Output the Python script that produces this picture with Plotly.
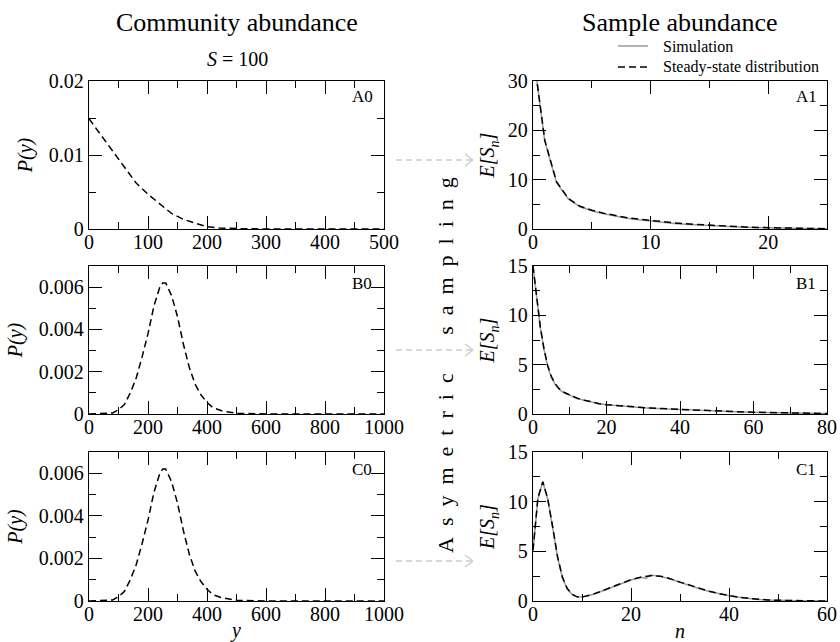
import plotly.graph_objects as go

FONT = "Liberation Serif, Times New Roman, serif"

# ---------------- data ----------------
# Community abundance, S = 100 (panel A0)
a0_y = [0, 20, 40, 60, 80, 100, 120, 140, 160, 180, 200, 220, 240, 260, 300, 350, 400, 450, 500]
a0_p = [0.0149, 0.0127, 0.0105, 0.0083, 0.0062, 0.0047, 0.0034, 0.0021, 0.0013, 0.0008,
        0.0003, 0.00015, 0.00007, 0.00003, 0.00001, 0, 0, 0, 0]

# Community abundance (panels B0 and C0)
b0_y = [0, 50, 80, 100, 120, 140, 160, 180, 200, 220, 240, 250, 260, 280, 300, 320, 340,
        360, 380, 400, 420, 450, 480, 500, 600, 800, 1000]
b0_p = [0, 0.00001, 0.00005, 0.0002, 0.00045, 0.001, 0.0017, 0.0027, 0.0038, 0.0051, 0.0060,
        0.0062, 0.0062, 0.0056, 0.0046, 0.0033, 0.0022, 0.0014, 0.0009, 0.00055, 0.0003,
        0.00015, 0.00006, 0.00003, 0, 0, 0]
c0_y = b0_y
c0_p = b0_p

# Sample abundance (panel A1)
a1_n = [0, 1, 2, 3, 4, 5, 6, 7, 8, 9, 10, 11, 12, 13, 14, 15, 16, 17, 18, 19, 20, 21, 22, 23, 24, 25]
a1_sim = [36, 17.8, 9.4, 6.1, 4.5, 3.7, 3.1, 2.6, 2.2, 1.85, 1.55, 1.3, 1.1, 0.95, 0.8, 0.68,
          0.56, 0.45, 0.36, 0.28, 0.22, 0.17, 0.13, 0.1, 0.08, 0.06]
a1_ss = [36, 18.0, 9.6, 6.2, 4.6, 3.8, 3.2, 2.7, 2.3, 2.0, 1.7, 1.45, 1.25, 1.05, 0.9, 0.75,
         0.62, 0.5, 0.4, 0.32, 0.25, 0.2, 0.15, 0.12, 0.09, 0.07]

# Sample abundance (panel B1)
b1_n = [0, 1, 2, 3, 4, 5, 6, 7, 8, 9, 10, 12, 14, 16, 18, 20, 25, 30, 35, 40, 45, 50, 55,
        60, 65, 70, 75, 80]
b1_sim = [15, 11.7, 8.7, 6.5, 4.8, 3.7, 3.0, 2.55, 2.25, 2.05, 1.9, 1.58, 1.38, 1.18, 1.03,
          0.93, 0.76, 0.63, 0.53, 0.44, 0.36, 0.29, 0.23, 0.17, 0.13, 0.09, 0.06, 0.04]
b1_ss = [15, 11.8, 8.8, 6.6, 4.9, 3.8, 3.1, 2.6, 2.3, 2.1, 1.95, 1.6, 1.4, 1.2, 1.05, 0.95,
         0.78, 0.65, 0.55, 0.46, 0.38, 0.3, 0.24, 0.18, 0.14, 0.1, 0.07, 0.05]

# Sample abundance (panel C1)
c1_n = [0, 1, 2, 3, 4, 5, 6, 7, 8, 9, 10, 12, 14, 16, 18, 20, 22, 23, 24, 26, 28, 30, 32,
        34, 36, 38, 40, 42, 44, 46, 48, 50, 52, 54, 56, 58, 60]
c1_sim = [5.1, 10.3, 12.0, 10.3, 7.4, 4.4, 2.35, 1.2, 0.65, 0.42, 0.4, 0.62, 0.98, 1.38, 1.78,
          2.12, 2.38, 2.28, 2.62, 2.48, 2.22, 1.88, 1.58, 1.23, 0.96, 0.72, 0.52, 0.37, 0.25,
          0.16, 0.1, 0.06, 0.04, 0.03, 0.02, 0.01, 0.01]
c1_ss = [5.1, 10.4, 12.0, 10.3, 7.5, 4.5, 2.4, 1.25, 0.67, 0.42, 0.4, 0.64, 1.0, 1.4, 1.8,
         2.15, 2.4, 2.5, 2.55, 2.5, 2.25, 1.9, 1.6, 1.25, 0.98, 0.74, 0.54, 0.38, 0.26, 0.17,
         0.11, 0.07, 0.04, 0.03, 0.02, 0.01, 0.01]

legend_names = ["Simulation", "Steady-state distribution"]

# ---------------- figure ----------------
W, H = 840, 642
DASH = "7px,4px"
SIM_COLOR = "#9a9a9a"

fig = go.Figure()

def dashed(x, y, xa, ya):
    fig.add_trace(go.Scatter(x=x, y=y, mode="lines", xaxis=xa, yaxis=ya, name=legend_names[1],
                             showlegend=False,
                             line=dict(color="black", width=1.5, dash=DASH)))

def solid(x, y, xa, ya):
    fig.add_trace(go.Scatter(x=x, y=y, mode="lines", xaxis=xa, yaxis=ya, name=legend_names[0],
                             showlegend=False,
                             line=dict(color=SIM_COLOR, width=1.5)))

dashed(a0_y, a0_p, "x", "y")
solid(a1_n, a1_sim, "x2", "y2")
dashed(a1_n, a1_ss, "x2", "y2")
dashed(b0_y, b0_p, "x3", "y3")
solid(b1_n, b1_sim, "x4", "y4")
dashed(b1_n, b1_ss, "x4", "y4")
dashed(c0_y, c0_p, "x5", "y5")
solid(c1_n, c1_sim, "x6", "y6")
dashed(c1_n, c1_ss, "x6", "y6")

left_dom = [89 / W, 384 / W]
right_dom = [533 / W, 827 / W]
rows = {
    "A": [1 - 229 / H, 1 - 81 / H],
    "B": [1 - 414 / H, 1 - 266 / H],
    "C": [1 - 601 / H, 1 - 452 / H],
}

def ax(dom, rng, dtick, minor, anchor, title=None, standoff=4, is_x=False):
    d = dict(domain=dom, range=rng, dtick=dtick, tick0=0, anchor=anchor, automargin=False,
             showline=True, linecolor="black", linewidth=1.3, mirror="allticks",
             ticks="inside", ticklen=13, tickwidth=1.2, tickcolor="black",
             showgrid=False, zeroline=False,
             tickfont=dict(size=20, family=FONT, color="black"),
             minor=dict(ticks="inside", ticklen=7, tickwidth=1.2, tickcolor="black",
                        dtick=minor, tick0=0, showgrid=False))
    if is_x:
        d["ticklabelstandoff"] = -5
    if title:
        d["title"] = dict(text=title, font=dict(size=20, family=FONT, color="black"),
                          standoff=standoff)
    return d

PY = "<i>P(y)</i>"
ES = "<i>E[S<sub>n</sub>]</i>"

fig.update_layout(
    xaxis=ax(left_dom, [0, 500], 100, 50, "y", is_x=True),
    yaxis=ax(rows["A"], [0, 0.02], 0.01, 0.005, "x", PY, 10),
    xaxis2=ax(right_dom, [0, 25], 10, 5, "y2", is_x=True),
    yaxis2=ax(rows["A"], [0, 30], 10, 5, "x2", ES, 7),
    xaxis3=ax(left_dom, [0, 1000], 200, 100, "y3", is_x=True),
    yaxis3=ax(rows["B"], [0, 0.007], 0.002, 0.001, "x3", PY, 10),
    xaxis4=ax(right_dom, [0, 80], 20, 10, "y4", is_x=True),
    yaxis4=ax(rows["B"], [0, 15], 5, 2.5, "x4", ES, 7),
    xaxis5=ax(left_dom, [0, 1000], 200, 100, "y5", "<i>y</i>", 0, is_x=True),
    yaxis5=ax(rows["C"], [0, 0.007], 0.002, 0.001, "x5", PY, 10),
    xaxis6=ax(right_dom, [0, 60], 20, 10, "y6", "<i>n</i>", 0, is_x=True),
    yaxis6=ax(rows["C"], [0, 15], 5, 2.5, "x6", ES, 7),
)

fig.update_layout(
    width=W, height=H, margin=dict(l=0, r=0, t=0, b=0, autoexpand=False),
    paper_bgcolor="white", plot_bgcolor="white",
    font=dict(family=FONT, color="black"),
    showlegend=False,
)

ann = []
def text(x, y, s, size, xanchor="center", **kw):
    ann.append(dict(x=x / W, y=1 - y / H, xref="paper", yref="paper", text=s,
                    xanchor=xanchor, yanchor="middle",
                    showarrow=False, font=dict(size=size, family=FONT, color="black"), **kw))

text(237, 22, "Community abundance", 26)
text(680, 22, "Sample abundance", 26)
text(237, 59, "<i>S</i> = 100", 20)
for lab, x, y in [("A0", 362, 97), ("B0", 362, 283), ("C0", 362, 469),
                  ("A1", 806, 97), ("B1", 806, 283), ("C1", 806, 469)]:
    text(x, y, lab, 17)

NB = "\u00a0"
w1 = (NB * 2).join("Asymetric")
w2 = (NB * 2).join("sampling")
text(445, 365, w1 + NB * 7 + w2, 22, textangle=-90)

# legend (drawn by hand so the rows sit as in the reference)
shapes = []
for name, yy, col, dash in [(legend_names[0], 46, SIM_COLOR, "solid"),
                            (legend_names[1], 67, "black", DASH)]:
    text(661, yy, name, 16, xanchor="left")
    shapes.append(dict(type="line", xref="paper", yref="paper", x0=618 / W, x1=648 / W,
                       y0=1 - yy / H, y1=1 - yy / H, line=dict(color=col, width=1.5, dash=dash)))

fig.update_layout(annotations=ann)

# light dashed arrows between the columns
for yy in (160, 350, 561):
    y = 1 - yy / H
    shapes.append(dict(type="line", xref="paper", yref="paper", x0=396 / W, x1=472 / W,
                       y0=y, y1=y, line=dict(color="#cccccc", width=1.5, dash="6px,4px")))
    for dy in (-6, 6):
        shapes.append(dict(type="line", xref="paper", yref="paper", x0=465 / W, x1=473 / W,
                           y0=1 - (yy + dy) / H, y1=y, line=dict(color="#cccccc", width=1.5)))
fig.update_layout(shapes=shapes)

fig.write_html("out.html")
